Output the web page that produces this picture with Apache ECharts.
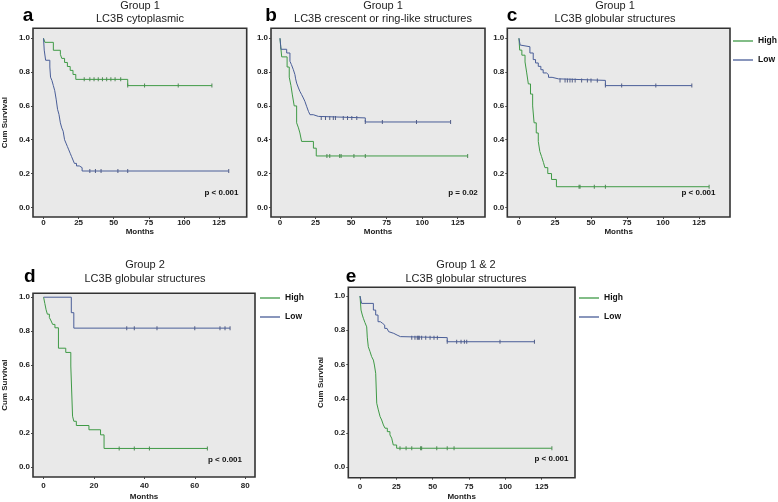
<!DOCTYPE html>
<html><head><meta charset="utf-8">
<script src="https://cdn.jsdelivr.net/npm/echarts@6/dist/echarts.min.js"></script>
<style>html,body{margin:0;padding:0;background:#fff}#c{width:778px;height:502px}</style>
</head><body><div id="c"></div>
<script>
// ---------- DATA (months, cumulative survival) ----------
// Panel a: Group 1, LC3B cytoplasmic
const aHigh = [[0,1],[1,0.976],[7,0.929],[12,0.905],[13,0.881],[15,0.857],[17,0.833],[19,0.81],[21,0.786],[23,0.757],[60,0.72],[120,0.72]];
const aHighCens = [29,33,36,39,42,45,48,51,55,60,72,96,120];
const aLow = [[0,1],[0.5,0.93],[1.5,0.87],[4.5,0.83],[5,0.77],[6,0.75],[7,0.72],[8,0.69],[9,0.64],[10,0.58],[11,0.55],[12,0.5],[13,0.47],[14,0.45],[15,0.4],[16,0.38],[17,0.36],[18,0.34],[19,0.32],[20,0.3],[21,0.28],[22,0.26],[23.5,0.245],[25.5,0.235],[27.5,0.215],[132,0.215]];
const aLowCens = [33,37,41,53,60,132];
// Panel b: Group 1, LC3B crescent or ring-like structures
const bHigh = [[0,1],[0.5,0.95],[1.2,0.89],[5,0.83],[6.5,0.77],[7.7,0.72],[8.7,0.665],[10,0.6],[11.7,0.5],[13,0.47],[14,0.44],[15.2,0.39],[23.5,0.35],[25.5,0.304],[132,0.304]];
const bHighCens = [33,35,42,43,52,60,132];
const bLow = [[0,1],[0.7,0.935],[4.7,0.913],[7,0.864],[8,0.845],[9.4,0.814],[10.5,0.785],[11,0.76],[11.7,0.735],[13,0.706],[14,0.686],[15.2,0.667],[16.4,0.647],[17.5,0.627],[18.7,0.598],[20,0.568],[21.1,0.548],[23.4,0.538],[27,0.529],[60,0.505],[120,0.505]];
const bLowCens = [29,32,35,37.5,39,44.5,47.5,50.5,54,60,72,96,120];
// Panel c: Group 1, LC3B globular structures
const cHigh = [[0,1],[0.5,0.93],[2,0.9],[4.2,0.86],[5.3,0.8],[6.5,0.73],[8,0.67],[9.5,0.6],[10.5,0.5],[12,0.44],[13.4,0.39],[14.5,0.33],[15.7,0.3],[17,0.265],[18,0.235],[20,0.2],[22.6,0.165],[26,0.122],[132,0.122]];
const cHighCens = [41.7,42.4,52.3,60,132];
const cLow = [[0,1],[0.8,0.96],[1.5,0.95],[7.6,0.913],[9.9,0.874],[11.5,0.854],[13.4,0.834],[15.2,0.814],[16.8,0.795],[19.1,0.785],[20.5,0.769],[23,0.76],[27.4,0.751],[60,0.72],[120,0.72]];
const cLowCens = [28.5,32,33.6,35.4,37,39,43.5,47.5,50,54.4,60,71.3,95,120];
// Panel d: Group 2, LC3B globular structures
const dHigh = [[0,1],[0.5,0.963],[1,0.926],[1.5,0.9],[2.3,0.88],[3,0.86],[3.6,0.84],[4.5,0.82],[5.9,0.7],[8.8,0.675],[10.8,0.595],[11.5,0.3],[12,0.27],[13,0.245],[18,0.22],[22.6,0.19],[24,0.11],[65,0.11]];
const dHighCens = [30,36,42,65];
const dLow = [[0,1],[11,0.909],[12,0.818],[74,0.818]];
const dLowCens = [33,36,45,60,70,72,74];
// Panel e: Group 1 & 2, LC3B globular structures
const eHigh = [[0,1],[0.7,0.918],[1.6,0.889],[2.3,0.87],[3.4,0.845],[4.6,0.82],[5,0.76],[5.7,0.704],[6.9,0.675],[8,0.646],[9.2,0.626],[9.9,0.597],[10.8,0.549],[11.5,0.374],[12.6,0.335],[13.8,0.296],[14.9,0.276],[16.1,0.247],[17.2,0.228],[18.8,0.208],[20.6,0.189],[21.8,0.17],[22.9,0.13],[25.2,0.111],[132,0.111]];
const eHighCens = [27.5,31.7,35.6,41.7,42.4,52.8,60,64.7,132];
const eLow = [[0,1],[1.1,0.957],[9.2,0.918],[10.8,0.889],[12.4,0.85],[14,0.84],[15.6,0.83],[17,0.811],[18.6,0.801],[19.7,0.792],[20.9,0.782],[23.2,0.772],[25.5,0.763],[27.8,0.757],[60,0.733],[120,0.733]];
const eLowCens = [35.6,37.8,39.4,40.1,40.8,42.4,45.2,48.2,50.9,53.2,60,66.5,69.5,71.8,73.4,96.3,120];

const titlesTop = ['Group 1','Group 1','Group 1','Group 2','Group 1 & 2'];
const titlesSub = ['LC3B cytoplasmic','LC3B crescent or ring-like structures','LC3B globular structures','LC3B globular structures','LC3B globular structures'];
const letters = ['a','b','c','d','e'];
const pTexts = ['p < 0.001','p = 0.02','p < 0.001','p < 0.001','p < 0.001'];
const xTicksLong = [0,25,50,75,100,125];
const xTicksShort = [0,20,40,60,80];
const yTicks = [0,0.2,0.4,0.6,0.8,1.0];
const seriesNames = ['High','Low'];

// ---------- LAYOUT ----------
const GREEN = '#3f9a46', BLUE = '#4a5e98';
const FONT = 'Liberation Sans, Arial, sans-serif';
const panels = [
  {high:aHigh, hc:aHighCens, low:aLow, lc:aLowCens, L:29.3, T:28.3, R:246.7, B:217, xmin:-7.5, xmax:144.8, ymin:-0.057, ymax:1.059, xt:xTicksLong, ylab:true, lm:2, ng:13, title:[140,6,18.5], letter:[28,16], p:[221.5,193]},
  {high:bHigh, hc:bHighCens, low:bLow, lc:bLowCens, L:271, T:28.3, R:485, B:217, xmin:-6.33, xmax:144.2, ymin:-0.057, ymax:1.059, xt:xTicksLong, ylab:false, lm:2, ng:13, title:[383,6,18.5], letter:[271,16], p:[463,193]},
  {high:cHigh, hc:cHighCens, low:cLow, lc:cLowCens, L:507.3, T:28.3, R:730, B:217, xmin:-8.1, xmax:146.5, ymin:-0.057, ymax:1.059, xt:xTicksLong, ylab:false, lm:2, ng:13, title:[615,6,18.5], letter:[512,16], p:[698.5,193]},
  {high:dHigh, hc:dHighCens, low:dLow, lc:dLowCens, L:30, T:293.3, R:255, B:478.3, xmin:-4.2, xmax:83.9, ymin:-0.058, ymax:1.023, xt:xTicksShort, ylab:true, lm:5, ng:20, title:[145,265,279], letter:[29.7,276.5], p:[225,460]},
  {high:eHigh, hc:eHighCens, low:eLow, lc:eLowCens, L:348.3, T:287.3, R:575, B:477.7, xmin:-8.05, xmax:147.9, ymin:-0.061, ymax:1.051, xt:xTicksLong, ylab:true, lm:5, ng:19, title:[466,265,279], letter:[351,276.5], p:[551.5,459]}
];

function survAt(steps, t) {
  let s = steps[0][1];
  for (const [x, y] of steps) { if (x <= t) s = y; }
  return s;
}

const grids = [], xAxes = [], yAxes = [], series = [], graphics = [];
const lblStyle = {fontSize:8, fontWeight:'bold', color:'#222', fontFamily:FONT};
panels.forEach((p, i) => {
  grids.push({left:p.L, top:p.T, width:p.R-p.L, height:p.B-p.T, show:true, backgroundColor:'#e9e9e9', borderColor:'#333', borderWidth:1.6, containLabel:false});
  xAxes.push({type:'value', gridIndex:i, position:'bottom', min:p.xmin, max:p.xmax, splitLine:{show:false}, axisLine:{show:false, onZero:false},
    axisTick:{show:true, length:2, customValues:p.xt, lineStyle:{color:'#444'}},
    axisLabel:{customValues:p.xt, margin:p.lm, ...lblStyle},
    name:'Months', nameLocation:'middle', nameGap:p.ng, nameTextStyle:{...lblStyle, verticalAlign:'middle'}});
  yAxes.push({type:'value', gridIndex:i, position:'left', min:p.ymin, max:p.ymax, splitLine:{show:false}, axisLine:{show:false, onZero:false},
    axisTick:{show:true, length:2, customValues:yTicks, lineStyle:{color:'#444'}},
    axisLabel:{customValues:yTicks, margin:3, formatter:v => v.toFixed(1), ...lblStyle},
    name:p.ylab ? 'Cum Survival' : '', nameLocation:'middle', nameGap:24, nameRotate:90, nameTextStyle:{...lblStyle}});
  [[p.high, p.hc, GREEN, '#2c6e33', seriesNames[0]], [p.low, p.lc, BLUE, '#2e3b6a', seriesNames[1]]].forEach(([steps, cens, col, dark, nm]) => {
    series.push({type:'line', name:nm, xAxisIndex:i, yAxisIndex:i, step:'end', data:steps, symbol:'none', showSymbol:false,
      lineStyle:{color:col, width:1}, itemStyle:{color:col}, animation:false, silent:true});
    series.push({type:'scatter', name:nm+' censored', xAxisIndex:i, yAxisIndex:i, data:cens.map(t => [t, survAt(steps, t)]),
      symbol:'rect', symbolSize:[1,4], itemStyle:{color:dark}, animation:false, silent:true});
  });
  graphics.push({type:'text', x:p.title[0], y:p.title[1], style:{text:titlesTop[i], fontSize:11, fontFamily:FONT, fill:'#222', textAlign:'center', textVerticalAlign:'middle'}});
  graphics.push({type:'text', x:p.title[0], y:p.title[2], style:{text:titlesSub[i], fontSize:11, fontFamily:FONT, fill:'#222', textAlign:'center', textVerticalAlign:'middle'}});
  graphics.push({type:'text', x:p.letter[0], y:p.letter[1], style:{text:letters[i], fontSize:19, fontWeight:'bold', fontFamily:FONT, fill:'#000', textAlign:'center', textVerticalAlign:'middle'}});
  graphics.push({type:'text', x:p.p[0], y:p.p[1], style:{text:pTexts[i], fontSize:8, fontWeight:'bold', fontFamily:FONT, fill:'#111', textAlign:'center', textVerticalAlign:'middle'}});
});

const legendBase = {orient:'vertical', data:seriesNames, icon:'rect', itemWidth:20, itemHeight:1.3, itemGap:9, selectedMode:false,
  textStyle:{fontSize:8.5, fontWeight:'bold', color:'#111', fontFamily:FONT, lineHeight:10}, padding:0};
const chart = echarts.init(document.getElementById('c'), null, {renderer:'canvas'});
chart.setOption({
  animation:false,
  backgroundColor:'#fff',
  grid:grids, xAxis:xAxes, yAxis:yAxes, series:series,
  legend:[
    {...legendBase, left:733, top:36},
    {...legendBase, left:260, top:293},
    {...legendBase, left:579, top:293}
  ],
  graphic:graphics
});
</script></body></html>
